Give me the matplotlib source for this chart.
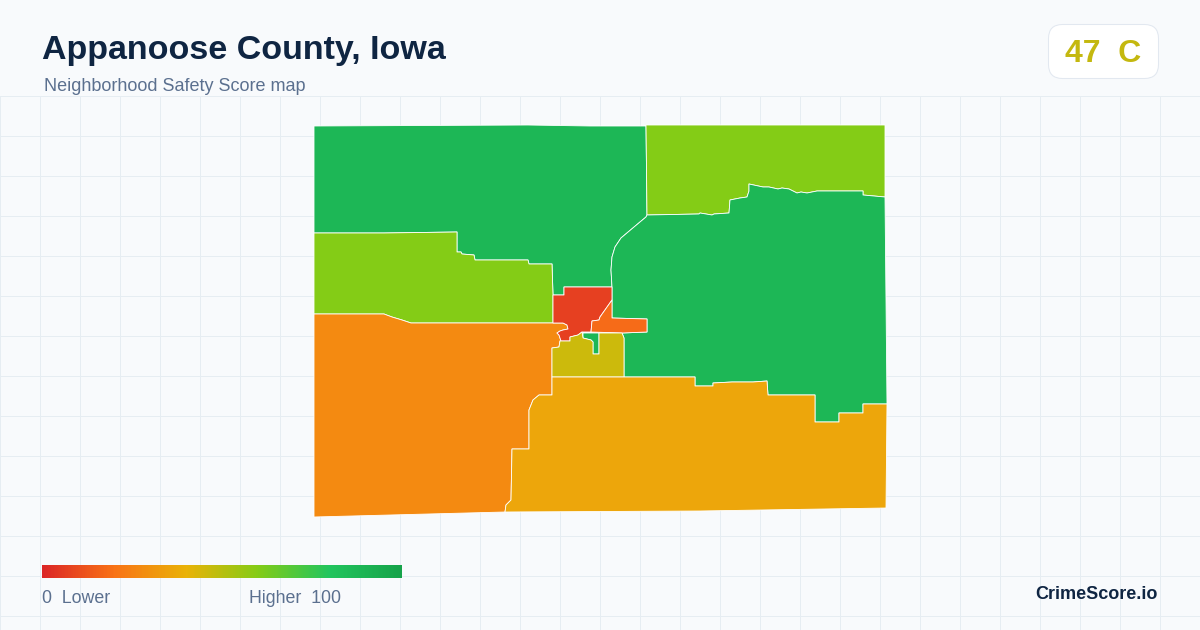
"""Appanoose County safety score map, drawn tract by tract."""

import numpy as np
import matplotlib.pyplot as plt
from matplotlib.colors import LinearSegmentedColormap
from matplotlib.patches import FancyBboxPatch, Polygon

plt.rcParams['font.family'] = ['Liberation Sans', 'DejaVu Sans']

# Score colour scale
scale_stops = [0.0, 0.2, 0.4, 0.6, 0.8, 1.0]
scale_colors = ['#dc2626', '#f97316', '#eab308', '#84cc16', '#22c55e', '#16a34a']

# Tract outlines
north_west = [(314, 126), (528, 125), (590, 126), (646, 126), (647, 215), (646, 217), (640, 222),
              (621, 238), (615, 247), (612, 257), (611, 270), (612, 287), (564, 287), (564, 295),
              (553, 295), (552, 264), (529, 264), (528, 260), (475, 260), (474, 255), (462, 254),
              (461, 252), (457, 252), (457, 232), (384, 233), (314, 233)]
north_east = [(646, 125), (885, 125), (885, 197), (863, 195), (863, 191), (817, 191), (807, 193),
              (801, 192), (797, 193), (789, 189), (782, 188), (778, 189), (769, 187), (763, 187),
              (749, 184), (749, 191), (747, 197), (740, 198), (730, 200), (729, 213), (714, 214),
              (712, 215), (700, 213), (699, 214), (647, 215)]
east = [(612, 287), (611, 270), (612, 257), (615, 247), (621, 238), (640, 222), (646, 217),
        (647, 215), (699, 214), (700, 213), (712, 215), (714, 214), (729, 213), (730, 200),
        (740, 198), (747, 197), (749, 191), (749, 184), (763, 187), (769, 187), (778, 189),
        (782, 188), (789, 189), (797, 193), (801, 192), (807, 193), (817, 191), (863, 191),
        (863, 195), (885, 197), (886, 300), (887, 404), (863, 404), (863, 413), (839, 413),
        (839, 422), (815, 422), (815, 395), (768, 395), (767, 381), (753, 382), (732, 382),
        (713, 383), (713, 386), (695, 386), (695, 377), (672, 377), (624, 377), (624, 338),
        (622, 333), (647, 332), (647, 319), (612, 318), (612, 300)]
sliver = [(583, 333), (599, 333), (599, 354), (593, 354), (593, 342), (591, 340), (583, 338)]
west = [(314, 233), (384, 233), (457, 232), (457, 252), (461, 252), (462, 254), (474, 255),
        (475, 260), (528, 260), (529, 264), (552, 264), (553, 295), (553, 323), (411, 323),
        (402, 320), (392, 317), (384, 314), (314, 314)]
south_west = [(314, 314), (384, 314), (392, 317), (402, 320), (411, 323), (522, 323), (553, 323),
              (563, 323), (567, 325), (568, 329), (563, 330), (560, 331), (557, 333), (559, 335),
              (561, 341), (560, 341), (559, 347), (552, 348), (552, 395), (539, 395), (533, 400),
              (529, 410), (529, 449), (512, 449), (511, 500), (506, 505), (505, 512), (314, 517)]
town_core = [(612, 287), (612, 300), (600, 317), (599, 320), (592, 321), (591, 332), (582, 332),
             (578, 335), (570, 337), (570, 341), (561, 341), (559, 335), (557, 333), (560, 331),
             (563, 330), (568, 329), (567, 325), (563, 323), (553, 323), (553, 295), (564, 295),
             (564, 287)]
town_east = [(612, 300), (600, 317), (599, 320), (592, 321), (591, 332), (622, 333), (647, 332),
             (647, 319), (612, 318)]
town_south = [(552, 348), (559, 347), (560, 341), (570, 341), (570, 337), (578, 335), (582, 332),
              (583, 338), (591, 340), (593, 342), (593, 354), (599, 354), (599, 333), (622, 333),
              (624, 338), (624, 377), (552, 377)]
south = [(552, 377), (624, 377), (672, 377), (695, 377), (695, 386), (713, 386), (713, 383),
         (732, 382), (753, 382), (767, 381), (768, 395), (815, 395), (815, 422), (839, 422),
         (839, 413), (863, 413), (863, 404), (887, 404), (886, 508), (700, 511), (505, 512),
         (506, 505), (511, 500), (512, 449), (529, 449), (529, 410), (533, 400), (539, 395),
         (552, 395)]

tracts = [north_west, north_east, east, sliver, west, south_west,
          town_core, town_east, town_south, south]
scores = [88, 60, 88, 88, 60, 27, 7, 18, 46, 36]

overall_score = 47
overall_grade = 'C'

cmap = LinearSegmentedColormap.from_list('safety', list(zip(scale_stops, scale_colors)))

fig = plt.figure(figsize=(12, 6.3), dpi=100, facecolor='#f8fafc')
ax = fig.add_axes([0, 0, 1, 1])
ax.set_facecolor('#f8fafc')

# Background grid, header stays clear
ax.vlines(np.arange(0.5, 1200, 40), 96, 630, color='#e6edf2', linewidth=0.72, snap=False, zorder=0)
ax.hlines(np.arange(96.5, 630, 40), 0, 1200, color='#e6edf2', linewidth=0.72, snap=False, zorder=0)

# Map
for outline, score in zip(tracts, scores):
    ax.add_patch(Polygon(outline, closed=True, facecolor=cmap(score / 100),
                         edgecolor='white', linewidth=0.6, joinstyle='round', zorder=2))

# Header
ax.text(42, 59, 'Appanoose County, Iowa', fontsize=24.5, fontweight='bold', color='#0f2542', zorder=5)
ax.text(44, 91, 'Neighborhood Safety Score map', fontsize=13, color='#5b708f', zorder=5)

# Score badge
ax.add_patch(FancyBboxPatch((1048.5, 24.5), 110, 54, boxstyle='round,pad=0,rounding_size=14',
                            facecolor='white', edgecolor='#e2e8f0', linewidth=0.75, zorder=4))
ax.text(1103, 62, f'{overall_score}  {overall_grade}', fontsize=23, fontweight='bold',
        color='#c4b80f', ha='center', zorder=5)

# Legend bar
gradient = np.linspace(0, 1, 360).reshape(1, -1)
ax.imshow(gradient, cmap=cmap, extent=(42, 402, 578, 565), aspect='auto', zorder=3)
ax.text(42, 603, '0  Lower', fontsize=12.8, color='#5b708f', zorder=5)
ax.text(249, 603, 'Higher  100', fontsize=12.8, color='#5b708f', zorder=5)

ax.text(1158, 599, 'CrimeScore.io', fontsize=13, fontweight='bold', color='#0f2542', ha='right', zorder=5)

ax.set_xlim(0, 1200)
ax.set_ylim(630, 0)
ax.axis('off')

fig.savefig('out.png', dpi=100, facecolor=fig.get_facecolor())
